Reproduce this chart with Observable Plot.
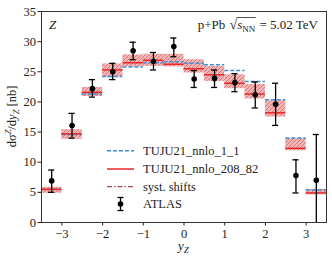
<!DOCTYPE html>
<html><head><meta charset="utf-8">
<script src="https://cdn.jsdelivr.net/npm/d3@7"></script>
<script src="https://cdn.jsdelivr.net/npm/@observablehq/plot@0.6"></script>
<style>body{margin:0;background:#fff} #chart{width:332px;height:260px}</style>
</head><body><div id="chart"></div>
<script>
const binCenters = [-3.25,-2.75,-2.25,-1.75,-1.25,-0.75,-0.25,0.25,0.75,1.25,1.75,2.25,2.75,3.25];
const atlasValue = [6.9,16.1,22.2,25.0,28.5,26.75,29.2,23.8,23.9,23.2,21.2,19.6,7.8,7.0];
const atlasLow   = [5.0,14.0,20.8,23.7,27.0,25.3,27.5,22.4,22.4,21.7,19.0,16.1,4.9,-1.0];
const atlasHigh  = [8.7,18.1,23.7,26.4,29.9,28.2,30.6,25.2,25.3,24.7,23.3,23.1,10.4,14.6];
const nnlo208    = [5.5,14.7,21.6,25.3,26.5,26.9,26.25,25.5,24.5,23.1,21.3,18.2,12.3,4.9];
const nnlo11     = [5.5,14.6,21.3,24.2,25.8,26.5,26.65,26.4,26.15,25.2,23.4,20.35,14.0,5.4];
const bandLow    = [4.85,13.8,20.9,24.1,25.8,25.9,25.8,24.8,23.4,22.2,20.5,17.5,11.9,4.6];
const bandHigh   = [5.85,15.4,22.4,26.3,27.8,27.9,27.9,27.0,25.9,24.5,22.9,20.2,13.9,5.5];
const xTicks = [-3,-2,-1,0,1,2,3];
const yTicks = [0,5,10,15,20,25,30,35];
const binHalfWidth = 0.25;
const capHalfWidth = 0.075;

const bins = binCenters.map((x,i) => ({x, v: atlasValue[i], elo: atlasLow[i], ehi: atlasHigh[i],
  n208: nnlo208[i], n11: nnlo11[i], lo: bandLow[i], hi: bandHigh[i]}));

const x1 = d => d.x - binHalfWidth, x2 = d => d.x + binHalfWidth;
const c1 = d => d.x - capHalfWidth, c2 = d => d.x + capHalfWidth;
const fmt = d => d < 0 ? "−" + Math.abs(d) : String(d);

const chart = Plot.plot({
  width: 332, height: 260,
  marginLeft: 41, marginRight: 6, marginTop: 11, marginBottom: 38,
  style: {fontFamily: "Liberation Serif", fontSize: "12.5px", color: "#222", background: "white"},
  x: {domain: [-3.5, 3.5], ticks: xTicks, tickSize: 3.5, tickPadding: 3, label: null, tickFormat: fmt},
  y: {domain: [0, 35], ticks: yTicks, tickSize: 3.5, tickPadding: 2, label: null, tickFormat: fmt},
  marks: [
    Plot.rect(bins, {x1, x2, y1: "lo", y2: "hi", fill: "#f3a6a6", fillOpacity: 0.85}),
    Plot.rect(bins, {x1, x2, y1: "lo", y2: "hi", fill: "url(#hatch)"}),
    Plot.ruleY(bins, {y: "n11", x1, x2, stroke: "#3d8fd6", strokeWidth: 1.5, strokeDasharray: "4,2"}),
    Plot.ruleY(bins, {y: "n208", x1, x2, stroke: "#e8282b", strokeWidth: 1.5}),
    Plot.ruleX(bins, {x: "x", y1: "elo", y2: "ehi", stroke: "black", strokeWidth: 1.3, clip: true}),
    Plot.ruleY(bins, {y: "elo", x1: c1, x2: c2, stroke: "black", strokeWidth: 1.3, clip: true}),
    Plot.ruleY(bins, {y: "ehi", x1: c1, x2: c2, stroke: "black", strokeWidth: 1.3, clip: true}),
    Plot.dot(bins, {x: "x", y: "v", r: 2.8, fill: "black"}),
    Plot.frame({stroke: "#333"})
  ]
});
document.getElementById("chart").appendChild(chart);

const svg = d3.select(chart);
const defs = svg.insert("defs", ":first-child");
const pat = defs.append("pattern").attr("id", "hatch").attr("patternUnits", "userSpaceOnUse")
  .attr("width", 4).attr("height", 4);
pat.append("path").attr("d", "M-1,1 l2,-2 M0,4 l4,-4 M3,5 l2,-2")
  .attr("stroke", "#b85a5a").attr("stroke-width", 0.6);

const FONT = "Liberation Serif";
const over = svg.append("g").attr("text-anchor", "start").attr("font-family", FONT).attr("fill", "#222");
// Z label
over.append("text").attr("x", 49).attr("y", 29).attr("font-size", 13)
  .attr("font-style", "italic").text("Z");

// title p+Pb sqrt(s_NN) = 5.02 TeV
function seq(g, x, y, parts) {
  let cx = x;
  const nodes = [];
  for (const p of parts) {
    const t = g.append("text").attr("x", cx).attr("y", y + (p.dy || 0))
      .attr("font-size", p.size || 13).attr("font-style", p.italic ? "italic" : null)
      .attr("xml:space", "preserve").style("white-space", "pre").text(p.t);
    const w = t.node().getComputedTextLength();
    nodes.push({x: cx, w});
    cx += w + (p.gap || 0);
  }
  return {end: cx, nodes};
}
const tg = over.append("g");
const r = seq(tg, 0, 29, [
  {t: "p+Pb ", gap: 1}, {t: "√", size: 14}, {t: "s", italic: true}, {t: "NN", size: 9, dy: 2.5, gap: 1}, {t: " = 5.02 TeV"}
]);
const shift = 318 - r.end;
tg.attr("transform", `translate(${shift},0)`);
const ovx1 = r.nodes[1].x + r.nodes[1].w - 0.5, ovx2 = r.nodes[3].x + r.nodes[3].w + 0.5;
tg.append("line").attr("x1", ovx1).attr("x2", ovx2).attr("y1", 17.5).attr("y2", 17.5)
  .attr("stroke", "#222").attr("stroke-width", 0.8);

// y label
const yl = svg.append("text").attr("transform", "translate(16,116.5) rotate(-90)")
  .attr("text-anchor", "middle").attr("font-family", FONT).attr("font-size", 12.5).attr("fill", "#222");
yl.append("tspan").text("dσ");
yl.append("tspan").attr("dy", -5).attr("font-size", 8.5).attr("font-style", "italic").text("Z");
yl.append("tspan").attr("dy", 5).text("/d");
yl.append("tspan").attr("font-style", "italic").text("y");
yl.append("tspan").attr("dy", 3).attr("font-size", 8.5).attr("font-style", "italic").text("Z");
yl.append("tspan").attr("dy", -3).text(" [nb]");

// x label
const xl = svg.append("text").attr("x", 183.4).attr("y", 250).attr("text-anchor", "middle")
  .attr("font-family", FONT).attr("font-size", 13).attr("fill", "#222");
xl.append("tspan").attr("font-style", "italic").text("y");
xl.append("tspan").attr("dy", 3).attr("font-size", 9).attr("font-style", "italic").text("Z");

// legend
const lg = over.append("g").attr("font-size", 12.5);
const lx1 = 107, lx2 = 134, tx = 143;
const rows = [150.7, 169, 186.7, 204];
lg.append("line").attr("x1", lx1).attr("x2", lx2).attr("y1", rows[0]).attr("y2", rows[0])
  .attr("stroke", "#3d8fd6").attr("stroke-width", 1.5).attr("stroke-dasharray", "4,2");
lg.append("line").attr("x1", lx1).attr("x2", lx2).attr("y1", rows[1]).attr("y2", rows[1])
  .attr("stroke", "#e8282b").attr("stroke-width", 1.5);
lg.append("line").attr("x1", lx1).attr("x2", lx2).attr("y1", rows[2]).attr("y2", rows[2])
  .attr("stroke", "#a0504a").attr("stroke-width", 1.3).attr("stroke-dasharray", "5,2,1.5,2");
const mx = (lx1 + lx2) / 2;
lg.append("line").attr("x1", mx).attr("x2", mx).attr("y1", rows[3] - 6.5).attr("y2", rows[3] + 6.5)
  .attr("stroke", "black").attr("stroke-width", 1.3);
lg.append("line").attr("x1", mx - 3).attr("x2", mx + 3).attr("y1", rows[3] - 6.5).attr("y2", rows[3] - 6.5)
  .attr("stroke", "black").attr("stroke-width", 1.3);
lg.append("line").attr("x1", mx - 3).attr("x2", mx + 3).attr("y1", rows[3] + 6.5).attr("y2", rows[3] + 6.5)
  .attr("stroke", "black").attr("stroke-width", 1.3);
lg.append("circle").attr("cx", mx).attr("cy", rows[3]).attr("r", 2.8).attr("fill", "black");
const labels = ["TUJU21_nnlo_1_1", "TUJU21_nnlo_208_82", "syst. shifts", "ATLAS"];
labels.forEach((t, i) => lg.append("text").attr("x", tx).attr("y", rows[i]).attr("dy", "0.35em").text(t));
</script>
</body></html>
